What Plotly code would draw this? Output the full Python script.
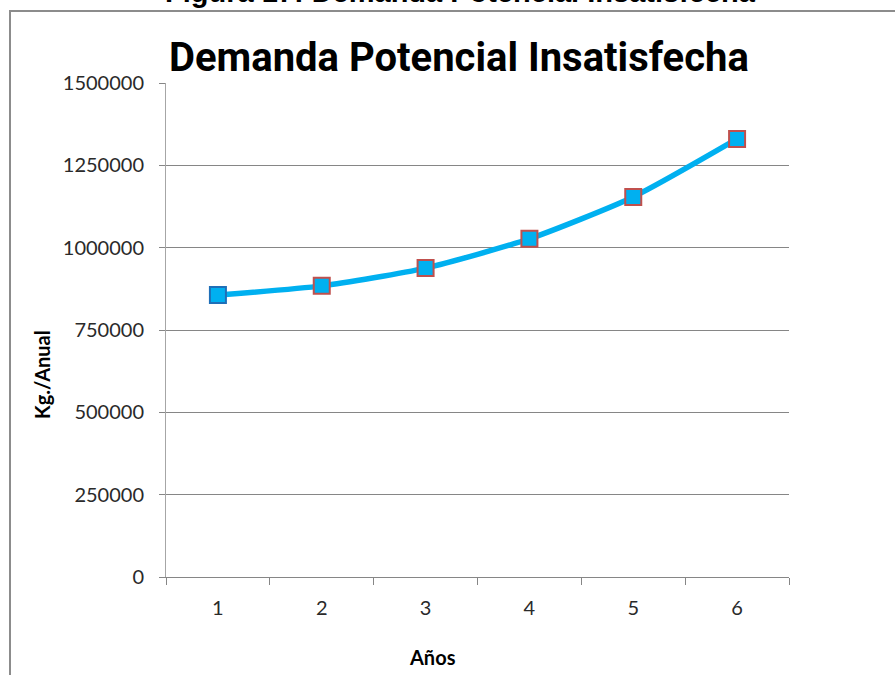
import plotly.graph_objects as go

years = ["1", "2", "3", "4", "5", "6"]
demand = [856000, 884000, 938000, 1027000, 1154000, 1330000]
marker_edges = ["#1F6FB8", "#C0504D", "#C0504D", "#C0504D", "#C0504D", "#C0504D"]
y_ticks = [0, 250000, 500000, 750000, 1000000, 1250000, 1500000]

W, H = 895, 675
L, R, T, B = 166, 106, 83, 98
pw, ph = W - L - R, H - T - B

def px_x(p):
    return (p - L) / pw

def px_y(p):
    return (H - B - p) / ph

fig = go.Figure()
fig.add_trace(go.Scatter(
    x=years, y=demand, mode="lines+markers",
    line=dict(color="#00B0F0", width=5.5, shape="spline", smoothing=0.6),
    marker=dict(symbol="square", size=16, color="#00B0F0",
                line=dict(color=marker_edges, width=2)),
    showlegend=False, cliponaxis=False,
))

fig.update_layout(
    width=W, height=H,
    margin=dict(l=L, r=R, t=T, b=B),
    paper_bgcolor="white", plot_bgcolor="white",
    font=dict(family="Lato, Open Sans, sans-serif", size=20, color="#2a2a2a"),
    xaxis=dict(
        type="category", showgrid=False, showline=True, linecolor="#868686", linewidth=1,
        ticks="outside", tickson="boundaries", ticklen=7, tickcolor="#868686",
        ticklabelstandoff=13, range=[-0.5, 5.5],
    ),
    yaxis=dict(
        range=[0, 1500000], tickvals=y_ticks, ticktext=[str(v) for v in y_ticks],
        showgrid=True, gridcolor="#868686", gridwidth=1,
        showline=True, linecolor="#A6A6A6", linewidth=1,
        ticks="outside", ticklen=6, tickcolor="#868686",
        ticklabelstandoff=11, zeroline=False,
    ),
    shapes=[dict(type="rect", xref="paper", yref="paper",
                 x0=px_x(10), x1=px_x(905), y0=px_y(685), y1=px_y(11),
                 line=dict(color="#8C8C8C", width=2), fillcolor="rgba(0,0,0,0)", layer="below")],
    annotations=[
        dict(text="<b>Figura 17: Demanda Potencial Insatisfecha</b>", xref="paper", yref="paper",
             x=px_x(460), y=px_y(10), xanchor="center", yanchor="bottom", showarrow=False,
             font=dict(family="Liberation Sans, Arial, sans-serif", size=29, color="#000000")),
        dict(text="<b>Demanda Potencial Insatisfecha</b>", xref="paper", yref="paper",
             x=px_x(459), y=px_y(58), xanchor="center", yanchor="middle", showarrow=False,
             font=dict(family="Roboto, sans-serif", size=40, color="#000000")),
        dict(text="<b>Kg./Anual</b>", xref="paper", yref="paper",
             x=px_x(42), y=px_y(375), xanchor="center", yanchor="middle", showarrow=False,
             textangle=-90,
             font=dict(family="Lato, sans-serif", size=20, color="#000000")),
        dict(text="<b>Años</b>", xref="paper", yref="paper",
             x=px_x(432), y=px_y(657), xanchor="center", yanchor="middle", showarrow=False,
             font=dict(family="Lato, sans-serif", size=20, color="#000000")),
    ],
)

fig.write_html("out.html", config={"displayModeBar": False},
               post_script="document.body.style.margin='0';document.body.style.overflow='hidden';")
